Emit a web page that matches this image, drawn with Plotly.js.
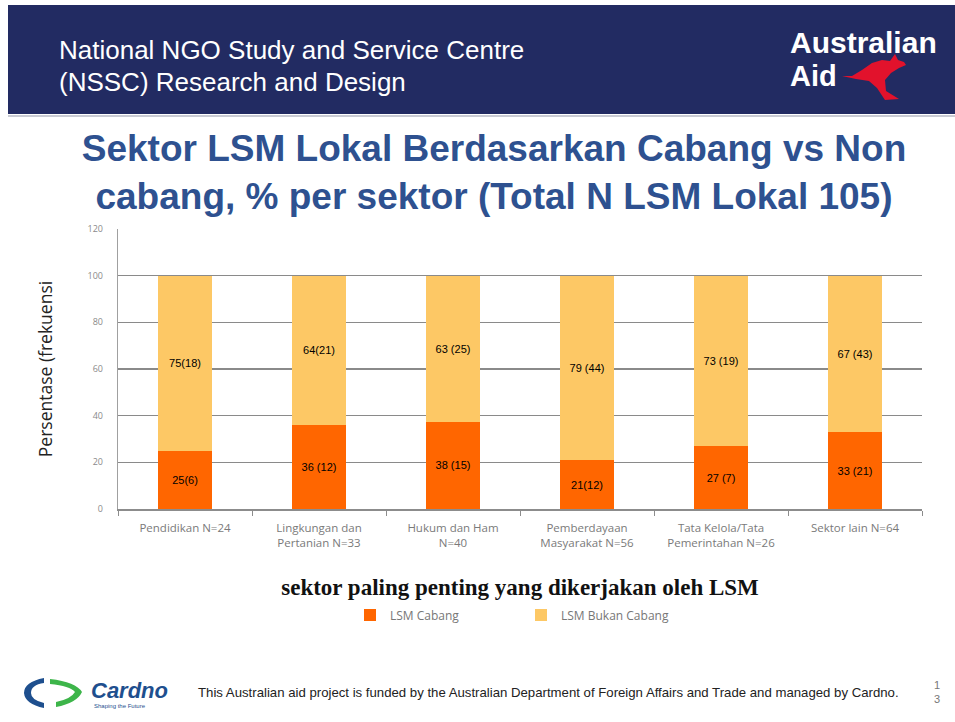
<!DOCTYPE html>
<html>
<head>
<meta charset="utf-8">
<script src="https://cdn.plot.ly/plotly-3.0.1.min.js"></script>
<style>html,body{margin:0;padding:0;background:#fff;}#chart{width:955px;height:722px;}</style>
</head>
<body>
<div id="chart"></div>
<script>
// ---- data ----
const categories = ["Pendidikan N=24", "Lingkungan dan<br>Pertanian N=33", "Hukum dan Ham<br>N=40", "Pemberdayaan<br>Masyarakat N=56", "Tata Kelola/Tata<br>Pemerintahan N=26", "Sektor lain N=64"];
const cabangValues = [25, 36, 37.5, 21, 27, 33];
const bukanCabangValues = [75, 64, 62.5, 79, 73, 67];
const cabangLabels = ["25(6)", "36 (12)", "38 (15)", "21(12)", "27 (7)", "33 (21)"];
const bukanCabangLabels = ["75(18)", "64(21)", "63 (25)", "79 (44)", "73 (19)", "67 (43)"];
const yTicks = [0, 20, 40, 60, 80, 100, 120];

// ---- layout helpers (pixel -> paper) ----
const L = 118, R = 922, T = 229, B = 509, W = 955, H = 722;
const px = x => (x - L) / (R - L);
const py = y => (B - y) / (B - T);
function pathPx(cmds) {
  return cmds.replace(/(-?\d+(?:\.\d+)?)\s+(-?\d+(?:\.\d+)?)/g, (m, a, b) => px(+a).toFixed(5) + "," + py(+b).toFixed(5));
}

const labelFont = {family: "Liberation Sans, Arial, sans-serif", size: 11, color: "#000"};
const traces = [
  {
    type: "bar", name: "LSM Cabang", x: categories, y: cabangValues,
    text: cabangLabels, textposition: "inside", insidetextanchor: "middle", textangle: 0,
    constraintext: "none", textfont: labelFont,
    marker: {color: "#FF6600"}, hoverinfo: "x+y"
  },
  {
    type: "bar", name: "LSM Bukan Cabang", x: categories, y: bukanCabangValues,
    text: bukanCabangLabels, textposition: "inside", insidetextanchor: "middle", textangle: 0,
    constraintext: "none", textfont: labelFont,
    marker: {color: "#FDC865"}, hoverinfo: "x+y"
  }
];

const shapes = [
  // header band
  {type: "rect", xref: "paper", yref: "paper", x0: px(8), x1: px(955), y0: py(114), y1: py(5), fillcolor: "#222B62", line: {width: 0}, layer: "above"},
  {type: "line", xref: "paper", yref: "paper", x0: px(8), x1: px(955), y0: py(116), y1: py(116), line: {color: "#C9CBD3", width: 2}},
  // kangaroo
  {type: "path", xref: "paper", yref: "paper", fillcolor: "#E2122C", line: {width: 0},
   path: pathPx("M 842 76 L 852 76 L 862 70 L 872 63 L 882 60 L 890 61 L 895 54 L 898 60 L 904 62 L 906 65 L 899 68 L 891 73 L 885 80 L 886 91 L 899 99 L 885 100 L 877 88 L 869 81 L 856 79 Z")},
  // Cardno logo arcs
  {type: "path", xref: "paper", yref: "paper", fillcolor: "#1E4F8E", line: {width: 0},
   path: pathPx("M 44 678 Q 24 682 24 693 Q 25 704 44 708 L 44 703 Q 31 700 31 693 Q 31 685 44 683 Z")},
  {type: "path", xref: "paper", yref: "paper", fillcolor: "#3DB54A", line: {width: 0},
   path: pathPx("M 50 679 Q 76 682 82 692 Q 77 703 56 707 L 56 702 Q 71 699 75 692 Q 70 686 50 684 Z")}
];

const annotations = [
  {text: "National NGO Study and Service Centre", xref: "paper", yref: "paper", x: px(57), y: py(50), xanchor: "left", yanchor: "middle", showarrow: false,
   font: {family: "Liberation Sans, Arial, sans-serif", size: 26, color: "#FFFFFF"}},
  {text: "(NSSC) Research and Design", xref: "paper", yref: "paper", x: px(57), y: py(82), xanchor: "left", yanchor: "middle", showarrow: false,
   font: {family: "Liberation Sans, Arial, sans-serif", size: 26, color: "#FFFFFF"}},
  {text: "<b>Australian</b>", xref: "paper", yref: "paper", x: px(788), y: py(43), xanchor: "left", yanchor: "middle", showarrow: false,
   font: {family: "Liberation Sans, Arial, sans-serif", size: 30, color: "#FFFFFF"}},
  {text: "<b>Aid</b>", xref: "paper", yref: "paper", x: px(788), y: py(76), xanchor: "left", yanchor: "middle", showarrow: false,
   font: {family: "Liberation Sans, Arial, sans-serif", size: 29, color: "#FFFFFF"}},
  {text: "<b><i>Cardno</i></b>", xref: "paper", yref: "paper", x: px(89), y: py(690), xanchor: "left", yanchor: "middle", showarrow: false,
   font: {family: "Liberation Sans, Arial, sans-serif", size: 22, color: "#1E4F8E"}},
  {text: "Shaping the Future", xref: "paper", yref: "paper", x: px(92), y: py(706), xanchor: "left", yanchor: "middle", showarrow: false,
   font: {family: "Liberation Sans, Arial, sans-serif", size: 6, color: "#1E4F8E"}},
  {text: "This Australian aid project is funded by the Australian Department of Foreign Affairs and Trade and managed by Cardno.", xref: "paper", yref: "paper", x: px(196), y: py(692), xanchor: "left", yanchor: "middle", showarrow: false,
   font: {family: "Liberation Sans, Arial, sans-serif", size: 13.2, color: "#222"}},
  {text: "1<br>3", xref: "paper", yref: "paper", x: px(937), y: py(692), xanchor: "center", yanchor: "middle", showarrow: false,
   font: {family: "Liberation Sans, Arial, sans-serif", size: 11, color: "#777"}}
];

const layout = {
  width: W, height: H,
  margin: {l: L, r: W - R, t: T, b: H - B, pad: 0},
  paper_bgcolor: "#FFFFFF", plot_bgcolor: "#FFFFFF",
  barmode: "stack", bargap: 0.6,
  showlegend: true,
  title: {
    text: "Sektor LSM Lokal Berdasarkan Cabang vs Non<br>cabang, % per sektor (Total N LSM Lokal 105)",
    xref: "container", yref: "container", x: 494 / W, xanchor: "center", y: 1 - 161 / H, yanchor: "middle",
    font: {family: "Liberation Sans, Arial, sans-serif", size: 37, color: "#2E5190", weight: "bold"}
  },
  xaxis: {
    type: "category", tickson: "boundaries", ticks: "outside", ticklen: 5, tickcolor: "#8C8C8C", tickwidth: 1,
    showline: true, linecolor: "#8C8C8C", linewidth: 1.5, showgrid: false, ticklabelstandoff: 8,
    tickfont: {family: "Open Sans, Lato, sans-serif", size: 11.5, color: "#7A7A7A"},
    title: {text: "<b>sektor paling penting yang dikerjakan oleh LSM</b>", standoff: 29,
      font: {family: "Liberation Serif, DejaVu Serif, serif", size: 23, color: "#111"}},
    fixedrange: true
  },
  yaxis: {
    range: [0, 120], tickvals: yTicks, ticktext: yTicks.map(String),
    showgrid: true, gridcolor: "#8A8A8A", gridwidth: 1.3, zeroline: false,
    showline: true, linecolor: "#A0A0A0", linewidth: 1.2, ticks: "", ticklabelstandoff: 12,
    tickfont: {family: "Open Sans, Lato, sans-serif", size: 9, color: "#8A8A8A"},
    title: {text: "Persentase (frekuensi", standoff: 30, font: {family: "Open Sans, Lato, sans-serif", size: 17.5, color: "#222"}},
    fixedrange: true
  },
  legend: {
    orientation: "h", xref: "paper", yref: "paper", x: px(350), y: py(615), xanchor: "left", yanchor: "middle",
    font: {family: "Open Sans, Lato, sans-serif", size: 12, color: "#777"},
    entrywidth: 126, entrywidthmode: "pixels", traceorder: "normal", bgcolor: "rgba(0,0,0,0)"
  },
  shapes: shapes,
  annotations: annotations
};

Plotly.newPlot("chart", traces, layout, {displayModeBar: false, staticPlot: true});
</script>
</body>
</html>
